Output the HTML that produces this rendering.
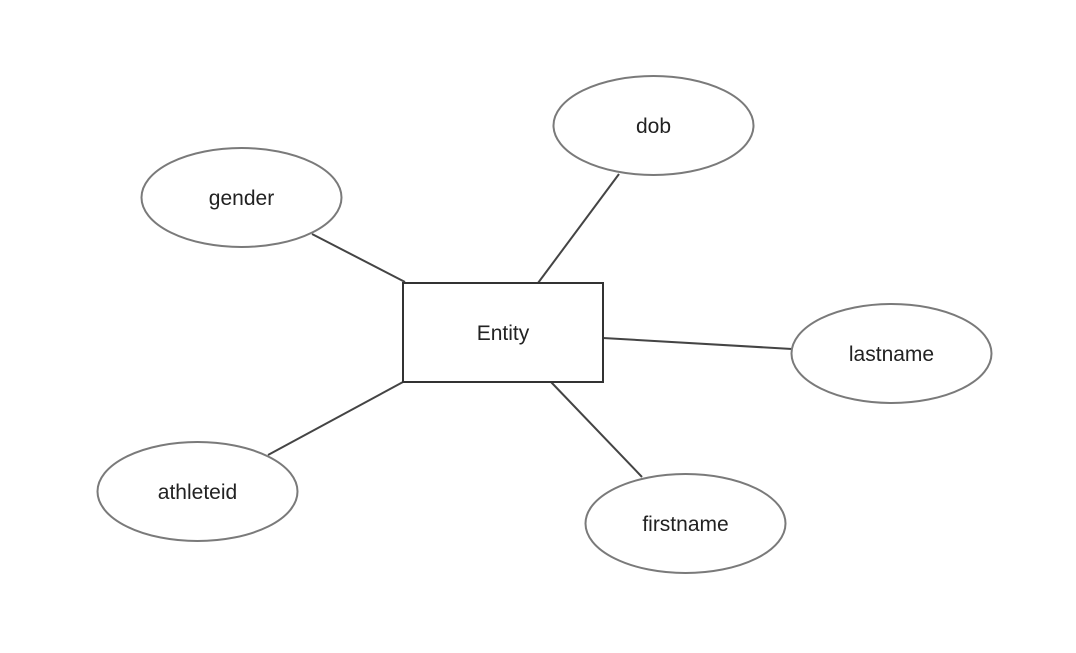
<!DOCTYPE html>
<html><head><style>html,body{margin:0;padding:0;background:#fff}</style></head>
<body>
<svg width="1076" height="648" viewBox="0 0 1076 648" xmlns="http://www.w3.org/2000/svg">
<g stroke="#444" stroke-width="2" fill="none">
<line x1="312" y1="234" x2="405" y2="282"/>
<line x1="619" y1="174" x2="538" y2="283"/>
<line x1="603" y1="338" x2="792" y2="349"/>
<line x1="551" y1="382" x2="642" y2="477"/>
<line x1="268" y1="455" x2="403" y2="382"/>
</g>
<g stroke="#7a7a7a" stroke-width="2" fill="#fff">
<ellipse cx="241.5" cy="197.5" rx="100" ry="49.5"/>
<ellipse cx="653.5" cy="125.5" rx="100" ry="49.5"/>
<ellipse cx="891.5" cy="353.5" rx="100" ry="49.5"/>
<ellipse cx="685.5" cy="523.5" rx="100" ry="49.5"/>
<ellipse cx="197.5" cy="491.5" rx="100" ry="49.5"/>
</g>
<rect x="403" y="283" width="200" height="99" fill="#fff" stroke="#333" stroke-width="2"/>
<g font-family="Liberation Sans, sans-serif" font-size="21" fill="#222" text-anchor="middle">
<text x="503" y="340">Entity</text>
<text x="241.5" y="205">gender</text>
<text x="653.5" y="133">dob</text>
<text x="891.5" y="361">lastname</text>
<text x="685.5" y="531">firstname</text>
<text x="197.5" y="499">athleteid</text>
</g>
</svg>
</body></html>
